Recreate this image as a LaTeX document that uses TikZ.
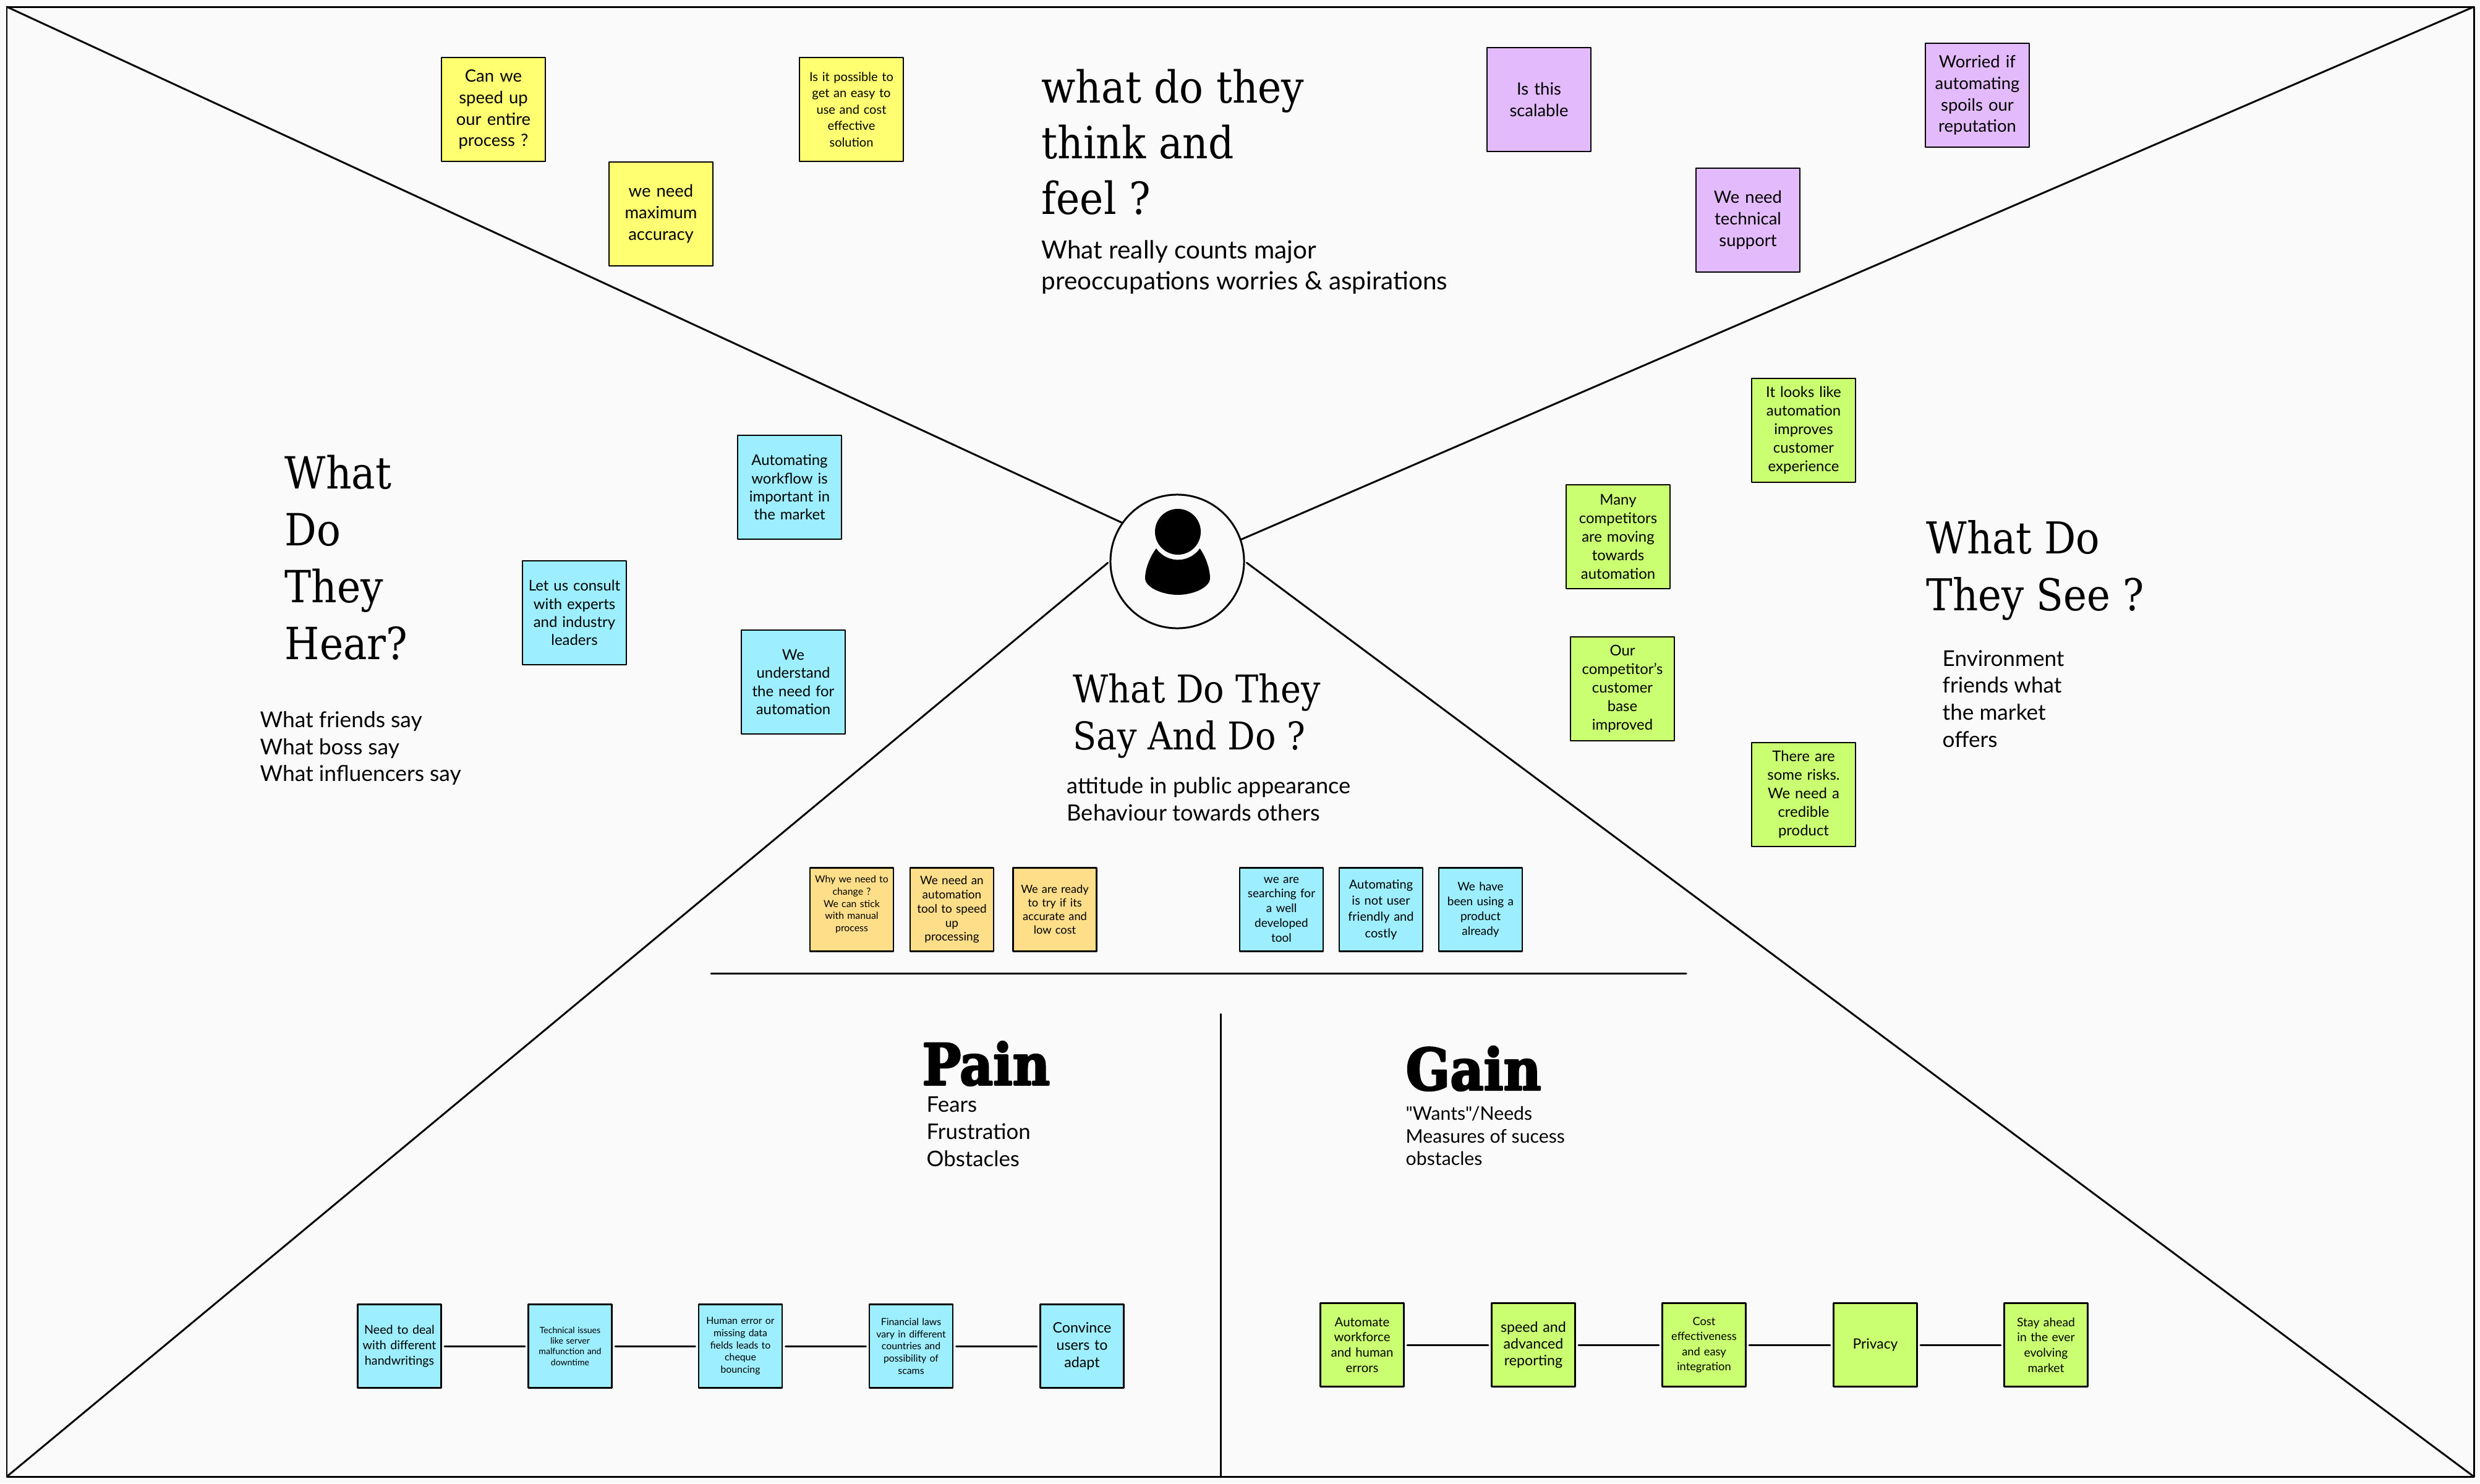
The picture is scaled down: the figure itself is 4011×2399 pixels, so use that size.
\documentclass[tikz,border=0pt]{standalone}
\usepackage{fontspec}
\setmainfont{Lato}
\newfontfamily\plainlato{Lato}
\newfontfamily\titlefont{DejaVu Serif}[FakeStretch=0.9]
\newfontfamily\heavyfont{DejaVu Serif Bold}[FakeBold=3,FakeStretch=0.9]
\usetikzlibrary{positioning}
\definecolor{bgpage}{HTML}{FAFAFA}
\definecolor{noteyellow}{HTML}{FFFF71}
\definecolor{notepurple}{HTML}{E3BBFC}
\definecolor{notegreen}{HTML}{C9FF70}
\definecolor{noteblue}{HTML}{9DEEFF}
\definecolor{noteorange}{HTML}{FFDE8A}
\newcommand{\fs}[2]{\fontsize{#1}{#2}\selectfont}
\tikzset{
  bignote/.style={draw=black,line width=0.8pt,minimum size=1.68cm,inner sep=0pt,text width=1.6cm,align=center,font=\fs{7.8}{9.9}},
  smallnote/.style={draw=black,line width=0.8pt,minimum size=1.35cm,inner sep=0pt,text width=1.3cm,align=center,font=\fs{5.6}{7}},
  link/.style={line width=0.85pt,shorten >=1.2pt,shorten <=1.2pt},
  spoke/.style={line width=0.85pt},
  heading/.style={anchor=west,inner sep=0pt,align=left,font=\titlefont\fs{20.4}{25.6}},
  subtext/.style={anchor=west,inner sep=0pt,align=left,font=\fs{11.5}{14}}
}
\begin{document}
\begin{tikzpicture}[x=0.01cm,y=-0.01cm,line cap=round,line join=round]
      \useasboundingbox (0,0) rectangle (4011,2399);
      \fill[bgpage] (0,0) rectangle (4011,2399);
      \coordinate (tl) at (11,11);
      \coordinate (tr) at (4001,11);
      \coordinate (bl) at (11,2388);
      \coordinate (br) at (4001,2388);
      \draw[line width=0.85pt] (tl) rectangle (br);
      % centre
      \node[circle,draw=black,line width=0.85pt,minimum size=2.16cm,inner sep=0pt] (user) at (1904,908) {};
      \draw[spoke] (tl) -- (user.145);
      \draw[spoke] (tr) -- (user.19);
      \draw[spoke,shorten >=1pt] (bl) -- (user.west);
      \draw[spoke,shorten >=1pt] (br) -- (user.east);
      \fill (1905,860) circle (0.37cm);
      \fill (1870,887) arc[start angle=145,end angle=35,x radius=43,y radius=43] .. controls (1950,900) and (1957,920) .. (1957,935)
        .. controls (1957,950) and (1930,962) .. (1905,962) .. controls (1880,962) and (1852,950) .. (1852,935) .. controls (1852,920) and (1860,900) .. (1870,887) -- cycle;
      % headings
      \node[heading] (think) at (1684,230) {what do they\\think and\\feel ?};
      \node[subtext] (thinksub) at (1684,432) {What really counts major\\preoccupations worries \& aspirations};
      \node[heading,font=\titlefont\fs{20.4}{26.2}] (hear) at (460,902) {What\\Do\\They\\Hear?};
      \node[subtext,font=\fs{10.05}{12.4}] (hearsub) at (420,1210) {What friends say\\What boss say\\What influencers say};
      \node[heading,font=\titlefont\fs{20.2}{26.2}] (see) at (3115,922) {What Do\\They See ?};
      \node[subtext,font=\fs{10}{12.4}] (seesub) at (3141,1130) {Environment\\friends what\\the market\\offers};
      \node[heading,font=\titlefont\fs{17.6}{21.8}] (say) at (1735,1158) {What Do They\\Say And Do ?};
      \node[subtext,font=\fs{10.3}{12.4}] (saysub) at (1725,1292) {attitude in public appearance\\Behaviour towards others};
      \node[heading,font=\heavyfont\fs{26.3}{30}] (pain) at (1491,1720) {Pain};
      \node[subtext,font=\fs{9.9}{12.5}] (painsub) at (1498,1830) {Fears\\Frustration\\Obstacles};
      \node[heading,font=\heavyfont\fs{26.5}{30}] (gain) at (2273,1728) {Gain};
      \node[subtext,font=\fs{8.6}{10.5}] (gainsub) at (2273,1837) {{\plainlato"Wants"/Needs}\\Measures of sucess\\obstacles};
      % think and feel
      \node[bignote,fill=noteyellow] (speedup) at (798,177) {Can we\\speed up\\our entire\\process ?};
      \node[bignote,fill=noteyellow] (accuracy) at (1069,346) {we need\\maximum\\accuracy};
      \node[bignote,fill=noteyellow,font=\fs{5.7}{7.5}] (easy) at (1377,177) {Is it possible to\\get an easy to\\use and cost\\effective\\solution};
      \node[bignote,fill=notepurple] (scalable) at (2489,161) {Is this\\scalable};
      \node[bignote,fill=notepurple] (support) at (2827,356) {We need\\technical\\support};
      \node[bignote,fill=notepurple] (worried) at (3198,154) {Worried if\\automating\\spoils our\\reputation};
      % see
      \node[bignote,fill=notegreen,font=\fs{6.8}{8.5}] (looks) at (2917,696) {It looks like\\automation\\improves\\customer\\experience};
      \node[bignote,fill=notegreen,font=\fs{6.8}{8.5}] (many) at (2617,868) {Many\\competitors\\are moving\\towards\\automation};
      \node[bignote,fill=notegreen,font=\fs{6.8}{8.5}] (base) at (2624,1114) {Our\\competitor's\\customer\\base\\improved};
      \node[bignote,fill=notegreen,font=\fs{6.8}{8.5}] (risks) at (2917,1285) {There are\\some risks.\\We need a\\credible\\product};
      % hear
      \node[bignote,fill=noteblue,font=\fs{6.8}{8.3}] (workflow) at (1277,788) {Automating\\workflow is\\important in\\the market};
      \node[bignote,fill=noteblue,font=\fs{6.8}{8.3}] (consult) at (929,991) {Let us consult\\with experts\\and industry\\leaders};
      \node[bignote,fill=noteblue,font=\fs{6.8}{8.3}] (understand) at (1283,1103) {We\\understand\\the need for\\automation};
      % say and do
      \node[smallnote,fill=noteorange,font=\fs{4.5}{5.6}] (change) at (1377.5,1471) {Why we need to\\change ?\\We can stick\\with manual\\process\\\mbox{}};
      \node[smallnote,fill=noteorange,font=\fs{5.4}{6.5}] (tool) at (1539.5,1471) {We need an\\automation\\tool to speed\\up\\processing};
      \node[smallnote,fill=noteorange,font=\fs{5.2}{6.3}] (ready) at (1706,1471) {We are ready\\to try if its\\accurate and\\low cost};
      \node[smallnote,fill=noteblue,font=\fs{5.4}{6.8}] (searching) at (2072.5,1471) {we are\\searching for\\a well\\developed\\tool};
      \node[smallnote,fill=noteblue,font=\fs{5.7}{7.5}] (costly) at (2233.5,1471) {Automating\\is not user\\friendly and\\costly};
      \node[smallnote,fill=noteblue,font=\fs{5.4}{6.8}] (product) at (2394.5,1471) {We have\\been using a\\product\\already};
      % dividers
      \coordinate (sayl) at (1150,1574);
      \coordinate (sayr) at (2727,1574);
      \coordinate (divt) at (1974,1640);
      \coordinate (divb) at (1974,2388);
      \draw[spoke] (sayl) -- (sayr);
      \draw[spoke] (divt) -- (divb);
      % pain row
      \node[smallnote,fill=noteblue] (p1) at (646,2177) {Need to deal\\with different\\handwritings};
      \node[smallnote,fill=noteblue,font=\fs{4}{4.9}] (p2) at (922,2177) {Technical issues\\like server\\malfunction and\\downtime};
      \node[smallnote,fill=noteblue,font=\fs{4.5}{5.6}] (p3) at (1197.5,2177) {Human error or\\missing data\\fields leads to\\cheque\\bouncing};
      \node[smallnote,fill=noteblue,font=\fs{4.5}{5.6}] (p4) at (1473.5,2177) {Financial laws\\vary in different\\countries and\\possibility of\\scams};
      \node[smallnote,fill=noteblue,font=\fs{6.6}{8}] (p5) at (1750,2177) {Convince\\users to\\adapt};
      % gain row
      \node[smallnote,fill=notegreen,font=\fs{5.8}{7}] (g1) at (2203,2175) {Automate\\workforce\\and human\\errors};
      \node[smallnote,fill=notegreen,font=\fs{6.6}{7.7}] (g2) at (2480,2175) {speed and\\advanced\\reporting};
      \node[smallnote,fill=notegreen,font=\fs{5.2}{6.9}] (g3) at (2756,2175) {Cost\\effectiveness\\and easy\\integration};
      \node[smallnote,fill=notegreen,font=\fs{6.5}{8}] (g4) at (3033,2175) {Privacy};
      \node[smallnote,fill=notegreen,font=\fs{5.5}{7}] (g5) at (3309,2175) {Stay ahead\\in the ever\\evolving\\market};
      \foreach \a/\b in {p1/p2,p2/p3,p3/p4,p4/p5,g1/g2,g2/g3,g3/g4,g4/g5}
      \draw[link] (\a) -- (\b);
\end{tikzpicture}
\end{document}
